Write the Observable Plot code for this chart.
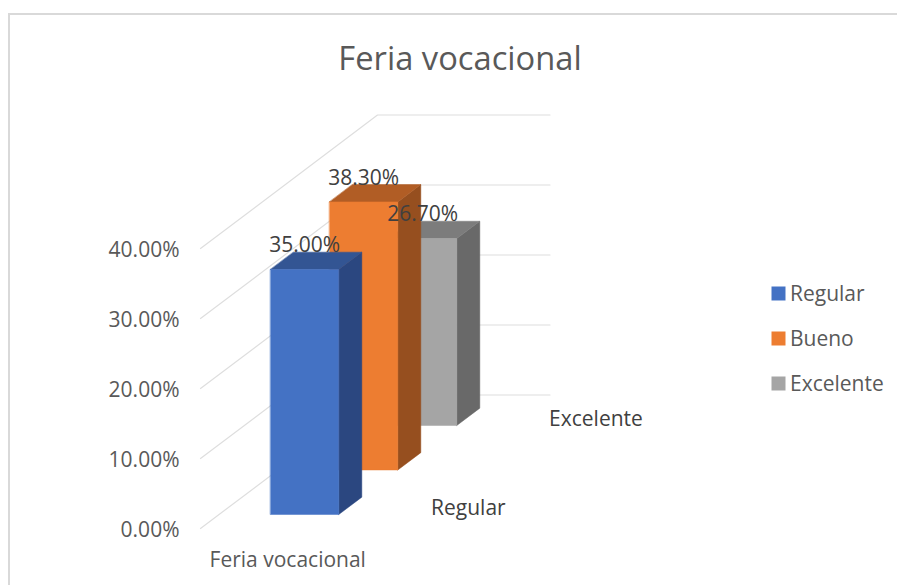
<!DOCTYPE html>
<html>
<head>
<meta charset="utf-8">
<script src="https://cdn.jsdelivr.net/npm/d3@7"></script>
<script src="https://cdn.jsdelivr.net/npm/@observablehq/plot@0.6"></script>
<style>
html,body{margin:0;padding:0;background:#fff;overflow:hidden}
#frame{position:absolute;left:8px;top:13px;width:900px;height:600px;border-top:2px solid #d9d9d9;border-left:2px solid #d9d9d9;pointer-events:none}
#chart{position:absolute;left:0;top:0}
svg{display:block;background:transparent}
</style>
</head>
<body>
<div id="chart"></div>
<div id="frame"></div>
<script>
const title = "Feria vocacional";
const category = "Feria vocacional";
const series = ["Regular", "Bueno", "Excelente"];
const values = [35.0, 38.3, 26.7];
const yTicks = [0, 10, 20, 30, 40];
const depthLabels = ["Regular", "Excelente"];
const frontColors = ["#4472c4", "#ed7d31", "#a5a5a5"];
const topColors = ["#335593", "#b15d25", "#7c7c7c"];
const sideColors = ["#2b4780", "#964f1f", "#696969"];

const W = 897, H = 585;
const pxPerX = 69, pxPerY = 7, originX = 200, originY = 528;
const kx = 59 / pxPerX, ky = 44.5 / pxPerY;       // oblique shift per depth step
const wallDepth = 3, floorWidth = 2.5;
const barLeft = 0.745, barWidth = 0.99, barStart = 0.315, barDepth = 0.39;
const pt = (u, v, d) => ({x: u + d * kx, y: v + d * ky});

const grid = yTicks.flatMap(t => [
  {t, ...pt(0, t, 0)},
  {t, ...pt(0, t, wallDepth)},
  {t, ...pt(floorWidth, t, wallDepth)}
]);

const faces = [];
series.forEach((s, i) => {
  const d0 = barStart + i, d1 = d0 + barDepth, v = values[i], l = barLeft, r = barLeft + barWidth;
  const add = (face, color, pts) => pts.forEach(p => faces.push({id: s + face, order: i, color, ...p}));
  add("side", sideColors[i], [pt(r, 0, d0), pt(r, 0, d1), pt(r, v, d1), pt(r, v, d0)]);
  add("top", topColors[i], [pt(l, v, d0), pt(r, v, d0), pt(r, v, d1), pt(l, v, d1)]);
  add("front", frontColors[i], [pt(l, 0, d0), pt(r, 0, d0), pt(r, v, d0), pt(l, v, d0)]);
});

const barMarks = [2, 1, 0].map(i =>
  Plot.line(faces.filter(f => f.order === i), {
    x: "x", y: "y", z: "id", fill: "color", stroke: "color", strokeWidth: 0.5, curve: "linear-closed"
  })
);

const labelPts = series.map((s, i) => ({label: d3.format(".2f")(values[i]) + "%", ...pt(barLeft + barWidth / 2, values[i], barStart + i)}));
const depthPts = depthLabels.map(s => ({label: s, ...pt(floorWidth, 0, barStart + barDepth / 2 + series.indexOf(s))}));
const legendRows = series.map((s, i) => ({s, x: (778 - originX) / pxPerX, y: (originY - (293 + 45 * i)) / pxPerY}));
const font = "'Open Sans', sans-serif";

const chart = Plot.plot({
  width: W, height: H,
  marginLeft: 0, marginRight: 0, marginTop: 0, marginBottom: 0,
  x: {domain: [-originX / pxPerX, (W - originX) / pxPerX], range: [0, W], axis: null},
  y: {domain: [(originY - H) / pxPerY, originY / pxPerY], range: [H, 0], axis: null},
  color: {domain: series, range: frontColors},
  style: {fontFamily: font, background: "transparent"},
  marks: [
    Plot.line(grid, {x: "x", y: "y", z: "t", stroke: "#dedede", strokeWidth: 1.2}),
    Plot.text(yTicks, {x: 0, y: d => d, text: d => d3.format(".2f")(d) + "%", textAnchor: "end", dx: -21, dy: 2, fontSize: 21, fill: "#595959"}),
    ...barMarks,
    Plot.text(labelPts, {x: "x", y: "y", text: "label", dy: -24, fontSize: 21, fill: "#404040"}),
    Plot.text(depthPts, {x: "x", y: "y", text: "label", textAnchor: "start", dx: 28, dy: 2, fontSize: 21, fill: "#404040"}),
    Plot.text([category], {x: floorWidth / 2, y: 0, text: d => d, dy: 32, dx: 1, fontSize: 21, fill: "#595959"}),
    Plot.text([title], {frameAnchor: "top", dx: 11, dy: 59, lineAnchor: "middle", text: d => d, fontSize: 32.7, fill: "#595959"}),
    Plot.dot(legendRows, {x: "x", y: "y", fill: "s", symbol: "square", r: 7.9}),
    Plot.text(legendRows, {x: "x", y: "y", text: "s", textAnchor: "start", dx: 11.5, dy: 1, fontSize: 21, fill: "#595959"})
  ]
});
document.getElementById("chart").appendChild(chart);
</script>
</body>
</html>
